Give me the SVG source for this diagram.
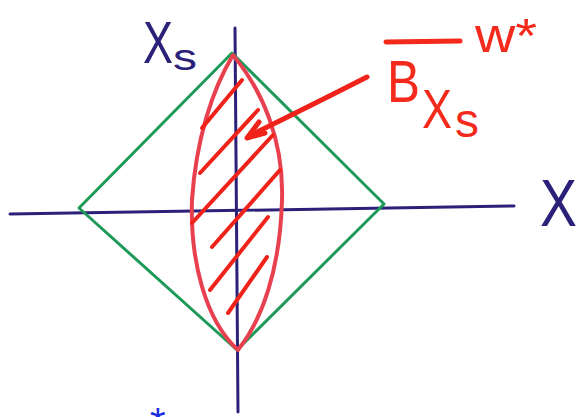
<svg xmlns="http://www.w3.org/2000/svg" width="588" height="417" viewBox="0 0 588 417">
<style>
.ax{stroke:#2b2178;stroke-width:3;fill:none;stroke-linecap:round}
.gr{stroke:#1e9a58;stroke-width:3;fill:none;stroke-linejoin:round}
.lens{stroke:#e8404f;stroke-width:4;fill:none;stroke-linejoin:round}
.ht{stroke:#f0231a;stroke-width:4;fill:none;stroke-linecap:round}
.navy{fill:#2b2178;font-family:"Liberation Sans",Arial,sans-serif}
.red{fill:#f32a1c;font-family:"Liberation Sans",Arial,sans-serif}
</style>
<rect width="588" height="417" fill="#ffffff"/>
<g id="axes">
<line class="ax" x1="10" y1="214" x2="514" y2="206"/>
<line class="ax" x1="235" y1="28" x2="238" y2="412"/>
</g>
<g id="diamond">
<polygon class="gr" points="232,53 384,204 237,350 79,208"/>
</g>
<g id="lens">
<path class="lens" d="M233,55 C212,90 196,140 192,200 C190,260 205,320 238,350 C262,320 280,270 282,200 C284,140 262,90 233,55 Z"/>
</g>
<g id="hatch">
<line class="ht" x1="202" y1="128" x2="242" y2="80"/>
<line class="ht" x1="200" y1="173" x2="258" y2="110"/>
<line class="ht" x1="192" y1="223" x2="273" y2="135"/>
<line class="ht" x1="212" y1="247" x2="280" y2="170"/>
<line class="ht" x1="210" y1="290" x2="268" y2="217"/>
<line class="ht" x1="228" y1="313" x2="267" y2="257"/>
</g>
<g id="arrow">
<path class="ht" style="stroke-width:5" d="M367,77 Q306,108 249,136"/>
<polyline class="ht" style="stroke-width:5;stroke-linejoin:round" points="259,122 247,138 265,133"/>
</g>
<g id="labels">
<text class="navy" x="143" y="63" font-size="60" textLength="30" lengthAdjust="spacingAndGlyphs">X</text>
<text class="navy" x="173" y="70" font-size="36" textLength="24" lengthAdjust="spacingAndGlyphs">s</text>
<text class="navy" x="540" y="226" font-size="66" textLength="37" lengthAdjust="spacingAndGlyphs">X</text>
<line x1="386" y1="42" x2="460" y2="41" stroke="#f32a1c" stroke-width="5" stroke-linecap="round"/>
<text class="red" x="387" y="102" font-size="60" textLength="33" lengthAdjust="spacingAndGlyphs">B</text>
<text class="red" x="422" y="128" font-size="55" textLength="30" lengthAdjust="spacingAndGlyphs">X</text>
<text class="red" x="455" y="137" font-size="48" textLength="24" lengthAdjust="spacingAndGlyphs">s</text>
<text class="red" x="475" y="52" font-size="48" textLength="62" lengthAdjust="spacingAndGlyphs">w*</text>
<text x="150" y="436" font-size="40" fill="#1a2ee0" font-family="Liberation Sans,Arial,sans-serif">*</text>
</g>
</svg>
